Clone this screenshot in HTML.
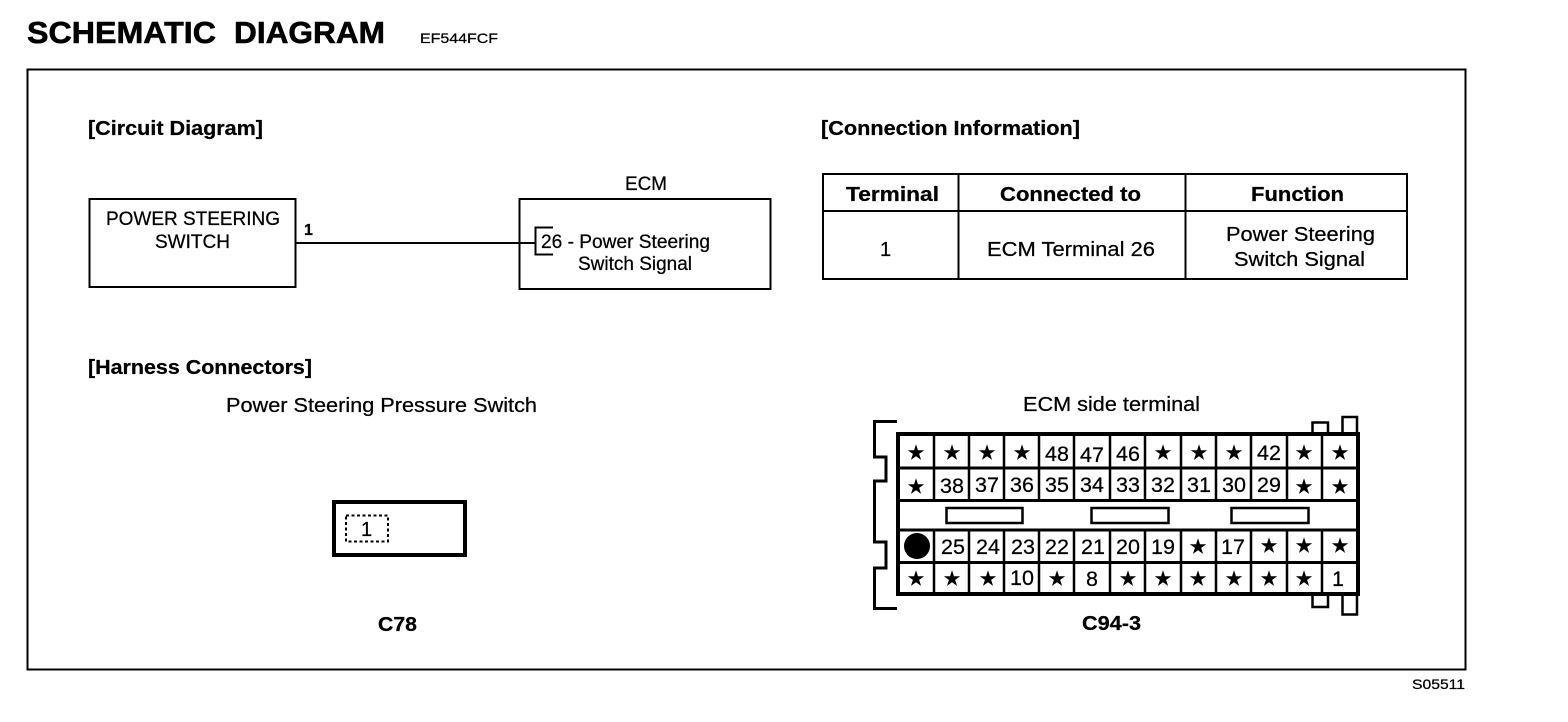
<!DOCTYPE html>
<html>
<head>
<meta charset="utf-8">
<style>
html,body{margin:0;padding:0;background:#fff;width:1568px;height:722px;overflow:hidden}
svg{display:block}
text{font-family:"Liberation Sans",Arial,sans-serif;fill:#000;stroke:#000;stroke-width:.25px}
.b{font-weight:bold}
.n{font-size:21.5px;text-anchor:middle}
.s{font-family:"DejaVu Sans",sans-serif;font-size:19px;text-anchor:middle;stroke-width:.6px}
.l{fill:none;stroke:#000;stroke-width:2}
</style>
</head>
<body>
<svg width="1568" height="722" viewBox="0 0 1568 722" xmlns="http://www.w3.org/2000/svg">
<rect width="1568" height="722" fill="#fff"/>
<text x="27" y="43" class="b" font-size="31" textLength="189" lengthAdjust="spacingAndGlyphs" style="stroke-width:.6px">SCHEMATIC</text>
<text x="234" y="43" class="b" font-size="31" textLength="151" lengthAdjust="spacingAndGlyphs" style="stroke-width:.6px">DIAGRAM</text>
<text x="420" y="43" font-size="14" textLength="78" lengthAdjust="spacingAndGlyphs">EF544FCF</text>
<rect x="27.5" y="69.5" width="1438" height="600" class="l"/>

<text x="88" y="135" class="b" font-size="20" textLength="175" lengthAdjust="spacingAndGlyphs">[Circuit Diagram]</text>
<text x="821" y="135" class="b" font-size="20" textLength="259" lengthAdjust="spacingAndGlyphs">[Connection Information]</text>
<text x="88" y="374" class="b" font-size="20" textLength="224" lengthAdjust="spacingAndGlyphs">[Harness Connectors]</text>

<rect x="89.5" y="199" width="206" height="88" class="l"/>
<text x="106" y="225" font-size="19" textLength="174" lengthAdjust="spacingAndGlyphs">POWER STEERING</text>
<text x="155" y="248" font-size="19" textLength="75" lengthAdjust="spacingAndGlyphs">SWITCH</text>
<text x="304" y="235" class="b" font-size="16">1</text>
<text x="625" y="190" font-size="19" textLength="42" lengthAdjust="spacingAndGlyphs">ECM</text>
<rect x="519.5" y="199" width="251" height="90" class="l"/>
<line x1="296" y1="243" x2="535" y2="243" class="l"/>
<path d="M553 227.5H535.5V254.5H553" class="l"/>
<text x="541" y="248" font-size="19" textLength="169" lengthAdjust="spacingAndGlyphs">26 - Power Steering</text>
<text x="578" y="270" font-size="19" textLength="114" lengthAdjust="spacingAndGlyphs">Switch Signal</text>

<rect x="823" y="174" width="584" height="105" class="l"/>
<line x1="823" y1="211" x2="1407" y2="211" class="l"/>
<line x1="958.5" y1="174" x2="958.5" y2="279" class="l"/>
<line x1="1185.5" y1="174" x2="1185.5" y2="279" class="l"/>
<text x="846" y="201" class="b" font-size="20" textLength="93" lengthAdjust="spacingAndGlyphs">Terminal</text>
<text x="1000" y="201" class="b" font-size="20" textLength="141" lengthAdjust="spacingAndGlyphs">Connected to</text>
<text x="1251" y="201" class="b" font-size="20" textLength="93" lengthAdjust="spacingAndGlyphs">Function</text>
<text x="880" y="256" font-size="20">1</text>
<text x="987" y="256" font-size="20" textLength="168" lengthAdjust="spacingAndGlyphs">ECM Terminal 26</text>
<text x="1226" y="241" font-size="20" textLength="149" lengthAdjust="spacingAndGlyphs">Power Steering</text>
<text x="1234" y="266" font-size="20" textLength="131" lengthAdjust="spacingAndGlyphs">Switch Signal</text>

<text x="226" y="412" font-size="20" textLength="311" lengthAdjust="spacingAndGlyphs">Power Steering Pressure Switch</text>
<text x="1023" y="411" font-size="20" textLength="177" lengthAdjust="spacingAndGlyphs">ECM side terminal</text>

<rect x="334" y="502" width="131" height="53" fill="none" stroke="#000" stroke-width="4"/>
<rect x="346" y="515.5" width="42" height="26" fill="none" stroke="#000" stroke-width="2" stroke-dasharray="3 2.5"/>
<text x="361" y="536" font-size="20">1</text>

<text x="378" y="631" class="b" font-size="20" textLength="39" lengthAdjust="spacingAndGlyphs">C78</text>
<text x="1082" y="630" class="b" font-size="20" textLength="59" lengthAdjust="spacingAndGlyphs">C94-3</text>
<text x="1412" y="689" font-size="14" textLength="53" lengthAdjust="spacingAndGlyphs">S05511</text>

<!-- ECM connector -->
<path d="M897 421.5H874.5V457H886V481H874.5V542H886V568H874.5V608.5H897" fill="none" stroke="#000" stroke-width="3"/>
<path d="M1312.5 433V422.5H1328V433M1342.5 433V417H1357V433M1312.5 595V607H1328V595M1342.5 595V614.5H1357V595" fill="none" stroke="#000" stroke-width="2.5"/>
<rect x="898" y="434" width="460" height="160" fill="none" stroke="#000" stroke-width="4"/>
<path d="M898 468H1358M898 500.5H1358M898 530H1358M898 562.5H1358" fill="none" stroke="#000" stroke-width="3"/>
<path d="M934 434V500M969 434V500M1004 434V500M1039 434V500M1074 434V500M1110 434V500M1145 434V500M1181 434V500M1216 434V500M1251 434V500M1287 434V500M1322 434V500M934 530V594M969 530V594M1004 530V594M1039 530V594M1074 530V594M1110 530V594M1145 530V594M1181 530V594M1216 530V594M1251 530V594M1287 530V594M1322 530V594" fill="none" stroke="#000" stroke-width="2.5"/>
<rect x="946.5" y="508" width="76" height="15" fill="#fff" stroke="#000" stroke-width="2.5"/>
<rect x="1091.5" y="508" width="77" height="15" fill="#fff" stroke="#000" stroke-width="2.5"/>
<rect x="1231.5" y="508" width="77" height="15" fill="#fff" stroke="#000" stroke-width="2.5"/>
<circle cx="917" cy="546" r="13" fill="#000"/>

<!-- row 1 -->
<text x="916" y="459" class="s">★</text><text x="952" y="459" class="s">★</text><text x="987" y="459" class="s">★</text><text x="1022" y="459" class="s">★</text>
<text x="1057" y="461" class="n">48</text><text x="1092" y="462" class="n">47</text><text x="1128" y="461" class="n">46</text>
<text x="1163" y="459" class="s">★</text><text x="1199" y="459" class="s">★</text><text x="1234" y="459" class="s">★</text>
<text x="1269" y="460" class="n">42</text>
<text x="1304" y="459" class="s">★</text><text x="1340" y="459" class="s">★</text>
<!-- row 2 -->
<text x="916" y="493" class="s">★</text>
<text x="952" y="493" class="n">38</text><text x="987" y="492" class="n">37</text><text x="1022" y="492" class="n">36</text><text x="1057" y="492" class="n">35</text><text x="1092" y="492" class="n">34</text><text x="1128" y="492" class="n">33</text><text x="1163" y="492" class="n">32</text><text x="1199" y="492" class="n">31</text><text x="1234" y="492" class="n">30</text><text x="1269" y="492" class="n">29</text>
<text x="1304" y="493" class="s">★</text><text x="1340" y="493" class="s">★</text>
<!-- row 3 -->
<text x="953" y="554" class="n">25</text><text x="988" y="554" class="n">24</text><text x="1023" y="554" class="n">23</text><text x="1057" y="554" class="n">22</text><text x="1093" y="554" class="n">21</text><text x="1128" y="554" class="n">20</text><text x="1163" y="554" class="n">19</text>
<text x="1198" y="553" class="s">★</text>
<text x="1233" y="554" class="n">17</text>
<text x="1269" y="552" class="s">★</text><text x="1304" y="552" class="s">★</text><text x="1340" y="552" class="s">★</text>
<!-- row 4 -->
<text x="916" y="585" class="s">★</text><text x="952" y="585" class="s">★</text><text x="988" y="585" class="s">★</text>
<text x="1022" y="585" class="n">10</text>
<text x="1057" y="585" class="s">★</text>
<text x="1092" y="586" class="n">8</text>
<text x="1128" y="585" class="s">★</text><text x="1163" y="585" class="s">★</text><text x="1198" y="585" class="s">★</text><text x="1234" y="585" class="s">★</text><text x="1269" y="585" class="s">★</text><text x="1304" y="585" class="s">★</text>
<text x="1338" y="586" class="n">1</text>
</svg>
</body>
</html>
